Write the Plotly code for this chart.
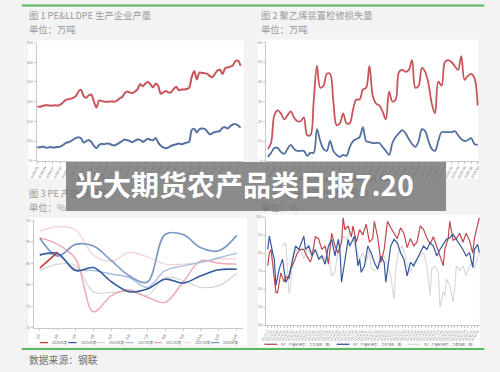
import plotly.graph_objects as go
import pandas as pd

# ---------------- data ----------------
# Chart 1: PE & LLDPE output (万吨), monthly
c1_months = list(pd.date_range("2019-01-01", periods=80, freq="MS").strftime("%Y-%m"))
c1_pe = [188, 187, 189, 191, 191, 190, 190, 191, 190, 193,
         198, 204, 206, 207, 210, 214, 226, 230, 214, 210,
         216, 218, 200, 185, 203, 202, 200, 200, 200, 201,
         200, 203, 208, 212, 222, 226, 223, 222, 226, 232,
         245, 239, 246, 250, 244, 236, 246, 240, 220, 224,
         227, 223, 224, 232, 238, 229, 231, 231, 232, 235,
         262, 278, 256, 274, 273, 272, 271, 265, 262, 270,
         279, 281, 270, 285, 287, 289, 292, 303, 304, 291]
c1_lldpe = [85, 84, 86, 84, 83, 85, 84, 84, 85, 86,
            90, 95, 97, 100, 104, 108, 110, 107, 96, 100,
            103, 98, 88, 82, 90, 93, 92, 94, 93, 90,
            89, 92, 96, 100, 104, 102, 100, 97, 101, 104,
            103, 98, 102, 106, 103, 102, 108, 96, 88, 84,
            82, 84, 88, 90, 92, 94, 92, 94, 96, 98,
            128, 131, 122, 130, 132, 131, 125, 117, 120, 123,
            124, 126, 134, 135, 132, 138, 142, 143, 140, 134]
c1_names = ["PE：产量（月）", "LLDPE：产量（月）"]

# Chart 2: maintenance loss (万吨), monthly
c2_months = list(pd.date_range("2020-06-01", periods=65, freq="MS").strftime("%Y-%m"))
c2_pe = [6, 9, 23, 25.5, 24, 21, 23, 25, 22, 20,
         20, 22, 13, 13, 30, 48, 37, 38, 44, 44,
         30, 18, 19, 24, 19, 19, 26, 31, 31, 36,
         37, 48, 33, 29, 28, 25, 21, 35, 30, 31,
         45, 46, 45, 46, 51, 37, 38, 47, 45, 39,
         29, 24, 40, 38, 50, 51, 50, 48, 46, 53,
         41, 43, 44, 42, 28]
c2_lldpe = [2, 4, 6.5, 6.5, 4.5, 3.5, 6, 8, 6, 5,
            5, 5, 2.5, 4, 4, 16, 10, 6, 5, 10,
            5, 3, 2, 3, 2.5, 7, 10, 11, 12, 17,
            10, 9.5, 9, 9, 9, 7, 5, 3, 9, 12,
            14, 15.5, 14, 11, 8.5, 7, 10, 16, 15, 10,
            6, 5, 10, 14.5, 14.5, 14.5, 14.5, 15, 13, 11,
            10, 10.5, 11.5, 8.5, 8]
c2_names = ["PE：检修损失量（月）", "LLDPE：检修损失量（月）"]

# Chart 3: PE capacity utilisation by year (%)
c3_months = ["1月", "2月", "3月", "4月", "5月", "6月", "7月", "8月", "9月", "10月", "11月", "12月"]
c3_2026 = [83.9, 87.6]
c3_2025 = [86.9, 87.3, 83.3, 84.0, 80.7, 78.4, 79.0, 81.3, 80.4, 82.1, 83.5, 83.6]
c3_2024 = [83.3, 84.8, 84.5, 78.3, 78.2, 78.5, 77.5, 81.7, 81.0, 79.4, 79.8, 82.7]
c3_2023 = [87.1, 86.9, 83.6, 83.3, 82.5, 81.7, 79.4, 83.3, 84.4, 85.2, 86.3, 87.3]
c3_2022 = [90.9, 89.4, 86.0, 73.7, 77.5, 78.8, 77.1, 75.9, 80.6, 85.6, 85.0, 84.8]
c3_2021 = [92.5, 93.5, 92.8, 86.9, 85.5, 87.5, 86.5, 84.8, 84.8, 85.2, 86.0, 86.0]
c3_2020 = [90.9, 86.7, 89.4, 89.0, 85.6, 82.1, 80.6, 91.7, 91.7, 88.6, 87.9, 91.5]
c3_names = ["2026年度", "2025年度", "2024年度", "2023年度", "2022年度", "2021年度", "2020年度"]

# Chart 4: regional capacity utilisation (%), weekly
c4_weeks = list(pd.date_range("2023-07-07", periods=130, freq="7D").strftime("%y-%m-%d"))
c4_red_wk = [0, 1, 2, 3, 5, 6, 8, 10, 11, 13, 14, 16, 18, 20, 22, 24, 26, 27, 29, 31,
             33, 35, 37, 39, 41, 43, 45, 46, 47, 49, 51, 52, 54, 56, 58, 60, 62, 64, 65, 67,
             69, 71, 73, 75, 77, 79, 81, 83, 85, 87, 89, 91, 93, 95, 97, 99, 101, 103, 105, 107,
             108, 110, 111, 113, 115, 117, 119, 121, 123, 125, 126, 128, 129]
c4_red_val = [73, 80, 82, 74, 58, 58, 69, 64, 67, 66, 71, 75, 80, 82, 82, 78, 75, 78, 89, 88,
              82, 84, 74, 91, 84, 80, 86, 99.5, 93, 95, 89, 95, 86, 93, 90, 96, 86, 88, 97.6, 89,
              75, 82, 97.6, 94, 91, 88, 94, 91, 83, 88, 84, 86, 95, 93, 88.5, 85, 89, 84, 78, 73,
              82, 88, 97.6, 87, 88, 91, 86, 91, 87, 80, 88, 95, 99.5]
c4_blue_wk = [0, 1, 3, 4, 5, 7, 9, 10, 11, 13, 15, 16, 17, 19, 21, 22, 23, 25, 27, 29,
              31, 33, 35, 37, 39, 41, 43, 44, 45, 47, 49, 50, 51, 53, 55, 56, 57, 59, 61, 63,
              65, 67, 69, 71, 72, 73, 75, 77, 79, 81, 83, 84, 85, 87, 89, 91, 93, 95, 97, 99,
              101, 103, 105, 107, 109, 111, 113, 115, 117, 119, 121, 123, 125, 126, 128, 129]
c4_blue_val = [82, 89.4, 80.2, 76.6, 62, 71.1, 76.6, 69.3, 63.8, 67.4, 76.6, 80.2, 83.9, 82, 86.6, 89.4, 82, 83.9, 78.4, 82,
               76.6, 78.4, 73.8, 83.9, 87.6, 78.4, 87.6, 82, 63.8, 76.6, 87.6, 83.9, 85.7, 89.4, 72.9, 76.6, 69.3, 72.9, 83.9, 80.2,
               74.8, 71.1, 78.4, 74.8, 63.8, 71.1, 83.9, 87.6, 85.7, 80.2, 76.6, 72, 67.4, 74.8, 72.9, 76.6, 80.2, 83.9, 82, 85.7,
               83.9, 78.4, 82, 84.8, 87.6, 88.5, 90.3, 87.6, 84.8, 82, 78.4, 80.2, 72, 82, 84.8, 80.2]
c4_gray_wk = [9, 11, 13, 14, 15, 16, 18, 20, 22, 24, 26, 28, 30, 32, 34, 36, 38, 39, 41, 43,
              44, 46, 48, 50, 52, 54, 56, 58, 60, 62, 63, 65, 67, 69, 71, 73, 75, 77, 78, 80,
              82, 84, 85, 87, 89, 91, 93, 95, 97, 99, 100, 102, 104, 105, 107, 108, 109, 111, 113, 114,
              115, 117, 119, 121, 123, 125, 126, 128, 129]
c4_gray_val = [83.9, 85.7, 57.4, 62, 76.6, 80.2, 82, 82, 76.6, 82, 80.2, 82, 80.2, 76.6, 78.4, 75.7, 72.9, 67.4, 69.3, 82,
               85.7, 89.4, 87.6, 91.2, 87.6, 82, 76.6, 80.2, 74.8, 82, 72, 70.2, 71.1, 74.8, 78.4, 72.9, 67.4, 54.6, 71.1, 82,
               83.9, 78.4, 72.9, 69.3, 74.8, 76.6, 78.4, 80.2, 72.9, 56.5, 71.1, 72.9, 69.3, 50, 58.3, 56.5, 65.6, 62, 52.8, 60.2,
               72.9, 70.2, 72.9, 67.4, 72.9, 74.8, 71.1, 76.6, 80.2]
c4_names = ["PE：产能利用率：华北地区（周）", "PE：产能利用率：华东地区（周）", "PE：产能利用率：华南地区（周）"]

banner_text = "光大期货农产品类日报7.20"

# ---------------- helpers ----------------
W, H = 500, 372
def fx(p):
    return p / W
def fy(p):
    return 1 - p / H

CJK = "Noto Sans CJK SC"
RED = "#c8555b"
BLUE = "#55719f"

fig = go.Figure()

# chart 1
fig.add_trace(go.Scatter(x=list(range(len(c1_pe))), y=c1_pe, mode="lines", name=c1_names[0],
                         line=dict(color=RED, width=2, shape="spline", smoothing=0.8),
                         xaxis="x", yaxis="y", showlegend=False))
fig.add_trace(go.Scatter(x=list(range(len(c1_lldpe))), y=c1_lldpe, mode="lines", name=c1_names[1],
                         line=dict(color=BLUE, width=2, shape="spline", smoothing=0.8),
                         xaxis="x", yaxis="y", showlegend=False))
# chart 2
fig.add_trace(go.Scatter(x=list(range(len(c2_pe))), y=c2_pe, mode="lines", name=c2_names[0],
                         line=dict(color=RED, width=1.8, shape="spline", smoothing=1),
                         xaxis="x2", yaxis="y2", showlegend=False))
fig.add_trace(go.Scatter(x=list(range(len(c2_lldpe))), y=c2_lldpe, mode="lines", name=c2_names[1],
                         line=dict(color=BLUE, width=1.8, shape="spline", smoothing=1),
                         xaxis="x2", yaxis="y2", showlegend=False))
# chart 3
c3_data = [c3_2026, c3_2025, c3_2024, c3_2023, c3_2022, c3_2021, c3_2020]
c3_colors = ["#c63c3c", "#35599a", "#d3d3d3", "#a7bde0", "#eea7b0", "#f4d6da", "#7b97c6"]
c3_widths = [1.6, 1.6, 1.2, 1.4, 1.4, 1.4, 1.6]
order = [5, 2, 4, 3, 6, 1, 0]
for i in order:
    fig.add_trace(go.Scatter(x=list(range(len(c3_data[i]))), y=c3_data[i], mode="lines", name=c3_names[i],
                             line=dict(color=c3_colors[i], width=c3_widths[i], shape="spline", smoothing=1),
                             xaxis="x3", yaxis="y3", showlegend=False))
# chart 4
c4_colors = ["#c0474d", "#34589a", "#d9d9d9"]
c4_sets = [(c4_red_wk, c4_red_val), (c4_blue_wk, c4_blue_val), (c4_gray_wk, c4_gray_val)]
for ci in (2, 0, 1):
    wk, val = c4_sets[ci]
    fig.add_trace(go.Scatter(x=wk, y=val, mode="lines", name=c4_names[ci],
                             line=dict(color=c4_colors[ci], width=1.2),
                             xaxis="x4", yaxis="y4", showlegend=False))

# ---------------- axes ----------------
tickfont = dict(family="Liberation Sans", size=3.6, color="#8a8a8a")
def yax(domain, rng, dtick, anchor):
    return dict(domain=domain, range=rng, dtick=dtick, tick0=rng[0], showgrid=False, zeroline=False,
                showline=True, linecolor="#c8c8c8", linewidth=1, ticks="outside", ticklen=2,
                tickcolor="#c8c8c8", tickfont=tickfont, anchor=anchor, fixedrange=True)
def xax(domain, rng, vals, text, anchor, size=3.6, angle=-60):
    return dict(domain=domain, range=rng, tickmode="array", tickvals=vals, ticktext=text,
                tickangle=angle, showgrid=False, zeroline=False, showline=True, linecolor="#c8c8c8",
                linewidth=1, ticks="outside", ticklen=2, tickcolor="#c8c8c8",
                tickfont=dict(family="Liberation Sans", size=size, color="#6a6a6a"),
                anchor=anchor, fixedrange=True)

c1_tv = list(range(0, len(c1_months), 3))
c2_tv = list(range(0, len(c2_months), 2))
c4_tv = list(range(0, len(c4_weeks), 2))
fig.update_layout(
    xaxis=xax([fx(30), fx(240)], [-0.3, 80], c1_tv, [c1_months[i] for i in c1_tv], "y"),
    yaxis=yax([fy(160.5), fy(41)], [50, 350], 50, "x"),
    xaxis2=xax([fx(263), fx(480)], [-0.6, 64.5], c2_tv, [c2_months[i] for i in c2_tv], "y2"),
    yaxis2=yax([fy(160.5), fy(40.7)], [0, 60], 10, "x2"),
    xaxis3=xax([fx(27.3), fx(240)], [-0.33, 11.36], list(range(12)), c3_months, "y3", size=3.8),
    yaxis3=yax([fy(329.3), fy(220.7)], [70, 95], 5, "x3"),
    xaxis4=xax([fx(263.3), fx(482)], [-1, 130.2], c4_tv, [c4_weeks[i] for i in c4_tv], "y4", size=3.0),
    yaxis4=yax([fy(326.7), fy(217.3)], [40, 100], 10, "x4"),
)

# ---------------- shapes ----------------
shapes = []
panels = [(21.7, 39, 240.5, 179), (255, 38, 478.5, 179), (21.7, 218, 244, 347), (255, 215, 480.5, 349)]
for x0, y0, x1, y1 in panels:
    shapes.append(dict(type="rect", xref="paper", yref="paper", x0=fx(x0), x1=fx(x1), y0=fy(y1), y1=fy(y0),
                       fillcolor="white", line=dict(width=0), layer="below"))
for yy in (3.6, 350.8):
    shapes.append(dict(type="line", xref="paper", yref="paper", x0=fx(15), x1=fx(485), y0=fy(yy), y1=fy(yy),
                       line=dict(color="#5cb85f", width=2), layer="above"))

annotations = []
def text_ann(t, x, y, size, color, font=CJK):
    annotations.append(dict(text=t, x=fx(x), y=fy(y), xref="paper", yref="paper", xanchor="left",
                            yanchor="middle", showarrow=False, font=dict(family=font, size=size, color=color)))

def legend_item(x, y, color, label, seg=9, size=3.6, width=1.3):
    shapes.append(dict(type="line", xref="paper", yref="paper", x0=fx(x), x1=fx(x + seg), y0=fy(y), y1=fy(y),
                       line=dict(color=color, width=width), layer="above"))
    text_ann(label, x + seg + 2, y, size, "#6a6a6a")

# chart legends (charts 1 and 2 sit under the banner)
legend_item(72, 179, RED, c1_names[0], seg=12, size=3.2)
legend_item(140, 179, BLUE, c1_names[1], seg=12, size=3.2)
legend_item(290, 179, RED, c2_names[0], seg=12, size=3.2)
legend_item(350, 179, BLUE, c2_names[1], seg=12, size=3.2)
for i, nm in enumerate(c3_names):
    legend_item(33.3 + 29 * i, 344.3, c3_colors[i], nm, seg=8.5)
c4_leg_x = [261.7, 335, 406.7]
for i, nm in enumerate(c4_names):
    legend_item(c4_leg_x[i], 346, c4_colors[i], nm, seg=13, size=3.4)

# titles
title_col = "#9a9a9a"
text_ann("图 1 PE&LLDPE 生产企业产量", 20.5, 12.7, 9.3, title_col)
text_ann("单位：万吨", 20.5, 27, 9.3, title_col)
text_ann("图 2 聚乙烯装置检修损失量", 256.5, 12.7, 9.3, title_col)
text_ann("单位：万吨", 256.5, 27, 9.3, title_col)
text_ann("图 3 PE 产能利用率", 20.5, 192.7, 9.3, title_col)
text_ann("单位：%", 20.5, 207.3, 9.3, title_col)
text_ann("图 4 PE 分地区产能利用率", 256.5, 192.7, 9.3, title_col)
text_ann("单位：%", 256.5, 207.3, 9.3, title_col)
text_ann("数据来源：钢联", 20.5, 361.5, 9.8, "#6f6f6f")

# banner box (translucent, above everything drawn earlier) and its text
annotations.append(dict(text=" ", x=fx(60), y=fy(162), xref="paper", yref="paper",
                        xanchor="left", yanchor="top", showarrow=False,
                        width=380, height=49, borderpad=0, borderwidth=0,
                        bgcolor="rgba(112,112,112,0.8)", font=dict(size=4)))
annotations.append(dict(text="<b>" + banner_text + "</b>", x=fx(241), y=fy(184), xref="paper", yref="paper",
                        xanchor="center", yanchor="middle", showarrow=False,
                        font=dict(family=CJK, size=28, color="white")))

fig.update_layout(
    width=W, height=H, margin=dict(l=0, r=0, t=0, b=0),
    paper_bgcolor="#f3f3f3", plot_bgcolor="rgba(0,0,0,0)",
    shapes=shapes, annotations=annotations, showlegend=False,
)

fig.write_html("out.html", config={"displayModeBar": False})
